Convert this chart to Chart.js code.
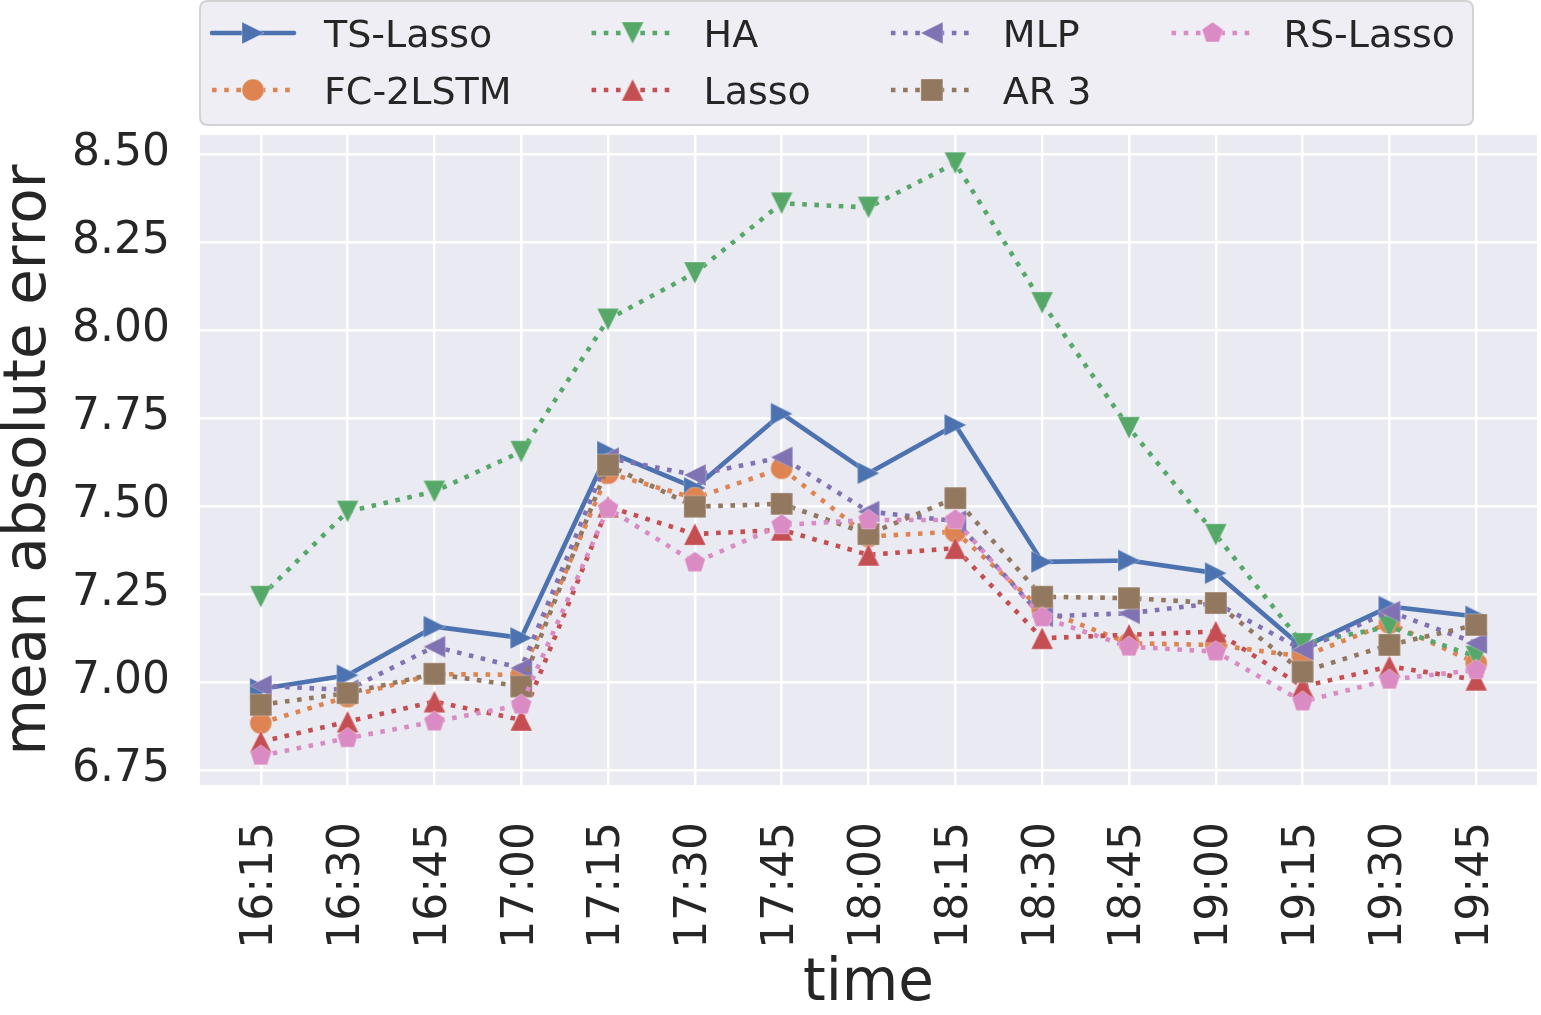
<!DOCTYPE html>
<html>
<head>
<meta charset="utf-8">
<script src="https://cdn.jsdelivr.net/npm/chart.js@4.4.1/dist/chart.umd.min.js"></script>
<style>
  html, body { margin: 0; padding: 0; background: #ffffff; overflow: hidden; }
  #wrap { width: 1541px; height: 1015px; position: relative; }
</style>
</head>
<body>
<div id="wrap"><canvas id="maeChart"></canvas></div>
<script>
// x categories (time of day)
const times = ['16:15', '16:30', '16:45', '17:00', '17:15', '17:30', '17:45', '18:00',
               '18:15', '18:30', '18:45', '19:00', '19:15', '19:30', '19:45'];
const yTicks = [6.75, 7.00, 7.25, 7.50, 7.75, 8.00, 8.25, 8.50];

// mean absolute error per model
const tsLasso = [6.980, 7.019, 7.157, 7.125, 7.654, 7.551, 7.762, 7.593, 7.730, 7.341, 7.345, 7.309, 7.098, 7.214, 7.186];
const fc2lstm = [6.883, 6.958, 7.022, 7.020, 7.593, 7.522, 7.607, 7.413, 7.427, 7.205, 7.110, 7.105, 7.072, 7.167, 7.053];
const ha      = [7.242, 7.484, 7.541, 7.654, 8.030, 8.162, 8.360, 8.348, 8.474, 8.077, 7.722, 7.418, 7.108, 7.157, 7.072];
const lasso   = [6.830, 6.887, 6.944, 6.892, 7.498, 7.420, 7.432, 7.361, 7.380, 7.124, 7.134, 7.143, 6.987, 7.044, 7.006];
const mlp     = [6.989, 6.977, 7.100, 7.039, 7.636, 7.588, 7.638, 7.484, 7.457, 7.186, 7.195, 7.224, 7.091, 7.200, 7.110];
const ar3     = [6.935, 6.968, 7.023, 6.987, 7.616, 7.498, 7.506, 7.420, 7.522, 7.242, 7.238, 7.224, 7.029, 7.105, 7.162];
const rsLasso = [6.790, 6.840, 6.887, 6.935, 7.493, 7.339, 7.446, 7.460, 7.460, 7.183, 7.100, 7.086, 6.944, 7.006, 7.034];

const FONT = "'DejaVu Sans', sans-serif";
const TEXT = '#262626';
const LW = 4.6;
const MS = 22;

// matplotlib-like marker drawn onto a small canvas
function makeMarker(shape, color, size) {
    const dim = Math.ceil(size + 6);
    const c = document.createElement('canvas');
    c.width = dim; c.height = dim;
    const g = c.getContext('2d');
    const m = dim / 2, h = size / 2;
    g.beginPath();
    if (shape === 'circle') {
        g.arc(m, m, h, 0, Math.PI * 2);
    } else if (shape === 'square') {
        g.rect(m - h, m - h, size, size);
    } else if (shape === 'up') {
        g.moveTo(m, m - h); g.lineTo(m - h, m + h); g.lineTo(m + h, m + h);
    } else if (shape === 'down') {
        g.moveTo(m, m + h); g.lineTo(m - h, m - h); g.lineTo(m + h, m - h);
    } else if (shape === 'left') {
        g.moveTo(m - h, m); g.lineTo(m + h, m - h); g.lineTo(m + h, m + h);
    } else if (shape === 'right') {
        g.moveTo(m + h, m); g.lineTo(m - h, m - h); g.lineTo(m - h, m + h);
    } else if (shape === 'pentagon') {
        for (let k = 0; k < 5; k++) {
            const a = -Math.PI / 2 + k * 2 * Math.PI / 5;
            const px = m + h * Math.cos(a), py = m + h * Math.sin(a);
            if (k === 0) g.moveTo(px, py); else g.lineTo(px, py);
        }
    }
    g.closePath();
    g.fillStyle = color;
    g.fill();
    g.lineWidth = 1;
    g.strokeStyle = 'rgba(255,255,255,0.3)';
    g.stroke();
    return c;
}

const series = [
    { label: 'TS-Lasso', data: tsLasso, color: '#4C72B0', marker: 'right',    dotted: false },
    { label: 'FC-2LSTM', data: fc2lstm, color: '#DD8452', marker: 'circle',   dotted: true },
    { label: 'HA',       data: ha,      color: '#55A868', marker: 'down',     dotted: true },
    { label: 'Lasso',    data: lasso,   color: '#C44E52', marker: 'up',       dotted: true },
    { label: 'MLP',      data: mlp,     color: '#8172B3', marker: 'left',     dotted: true },
    { label: 'AR 3',     data: ar3,     color: '#937860', marker: 'square',   dotted: true },
    { label: 'RS-Lasso', data: rsLasso, color: '#DA8BC3', marker: 'pentagon', dotted: true }
];

const datasets = series.map((s, i) => {
    const img = makeMarker(s.marker, s.color, MS);
    s.img = img;
    return {
        label: s.label,
        data: s.data.map((v, j) => ({ x: j, y: v })),
        borderColor: s.color,
        backgroundColor: s.color,
        borderWidth: LW,
        borderDash: s.dotted ? [LW, LW * 1.65] : [],
        borderCapStyle: s.dotted ? 'butt' : 'round',
        borderJoinStyle: 'round',
        pointStyle: img,
        pointRadius: MS / 2,
        pointHoverRadius: MS / 2,
        tension: 0,
        fill: false,
        order: series.length - i
    };
});

const plotBackground = {
    id: 'plotBackground',
    beforeDraw(chart) {
        const { ctx, chartArea: a } = chart;
        ctx.save();
        ctx.fillStyle = '#EAEAF2';
        ctx.fillRect(a.left, a.top, a.right - a.left, a.bottom - a.top);
        ctx.restore();
    }
};

// legend laid out in columns, like matplotlib ncol=4
const columnLegend = {
    id: 'columnLegend',
    afterDraw(chart) {
        const ctx = chart.ctx;
        const ncol = 4, nrow = 2;
        const handleLen = 82, textPad = 30, colSpace = 80;
        const rowY = [33, 90];
        const boxLeft = 200, boxTop = 1, boxBottom = 125;
        ctx.save();
        ctx.font = '38px ' + FONT;
        const cols = [];
        let x = 212;
        for (let c = 0; c < ncol; c++) {
            const items = series.slice(c * nrow, c * nrow + nrow);
            const w = Math.max(...items.map(s => ctx.measureText(s.label).width));
            cols.push({ x, items });
            x += handleLen + textPad + w + colSpace;
        }
        const last = cols[cols.length - 1];
        const lastW = Math.max(...last.items.map(s => ctx.measureText(s.label).width));
        const boxRight = last.x + handleLen + textPad + lastW + 18;

        // frame
        const r = 8;
        ctx.beginPath();
        ctx.moveTo(boxLeft + r, boxTop);
        ctx.lineTo(boxRight - r, boxTop);
        ctx.quadraticCurveTo(boxRight, boxTop, boxRight, boxTop + r);
        ctx.lineTo(boxRight, boxBottom - r);
        ctx.quadraticCurveTo(boxRight, boxBottom, boxRight - r, boxBottom);
        ctx.lineTo(boxLeft + r, boxBottom);
        ctx.quadraticCurveTo(boxLeft, boxBottom, boxLeft, boxBottom - r);
        ctx.lineTo(boxLeft, boxTop + r);
        ctx.quadraticCurveTo(boxLeft, boxTop, boxLeft + r, boxTop);
        ctx.closePath();
        ctx.fillStyle = '#EEEEF4';
        ctx.fill();
        ctx.lineWidth = 2;
        ctx.strokeStyle = '#D3D3D6';
        ctx.stroke();

        cols.forEach(col => {
            col.items.forEach((s, k) => {
                const y = rowY[k];
                ctx.beginPath();
                ctx.setLineDash(s.dotted ? [LW, LW * 1.65] : []);
                ctx.lineCap = s.dotted ? 'butt' : 'round';
                ctx.lineWidth = LW;
                ctx.strokeStyle = s.color;
                ctx.moveTo(col.x, y);
                ctx.lineTo(col.x + handleLen, y);
                ctx.stroke();
                ctx.setLineDash([]);
                const cx = col.x + handleLen / 2;
                ctx.drawImage(s.img, cx - s.img.width / 2, y - s.img.height / 2);
                ctx.fillStyle = TEXT;
                ctx.textAlign = 'left';
                ctx.textBaseline = 'alphabetic';
                ctx.fillText(s.label, col.x + handleLen + textPad, y + 14);
            });
        });
        ctx.restore();
    }
};

Chart.defaults.font.family = FONT;
Chart.defaults.color = TEXT;

const ctx = document.getElementById('maeChart').getContext('2d');
new Chart(ctx, {
    type: 'line',
    data: { datasets },
    plugins: [plotBackground, columnLegend],
    options: {
        responsive: true,
        maintainAspectRatio: false,
        animation: false,
        layout: { autoPadding: false, padding: { top: 135, right: 4, left: 0, bottom: 0 } },
        plugins: {
            legend: { display: false },
            tooltip: { enabled: false }
        },
        scales: {
            x: {
                type: 'linear',
                min: -0.7,
                max: 14.7,
                afterBuildTicks: scale => { scale.ticks = times.map((t, i) => ({ value: i })); },
                afterFit: scale => {
                    scale.height = 230;
                    scale.paddingLeft = 0;
                    scale.paddingRight = 0;
                },
                ticks: {
                    autoSkip: false,
                    minRotation: 90,
                    maxRotation: 90,
                    padding: 37,
                    font: { size: 44 },
                    color: TEXT,
                    callback: v => times[v]
                },
                grid: { color: '#ffffff', lineWidth: 2.5, drawTicks: false },
                border: { display: false },
                title: { display: true, text: 'time', font: { size: 58, lineHeight: 1 }, color: TEXT, padding: { top: 0, bottom: 1 } }
            },
            y: {
                min: 6.707,
                max: 8.554,
                afterBuildTicks: scale => { scale.ticks = yTicks.map(v => ({ value: v })); },
                afterFit: scale => {
                    scale.width = 200;
                    scale.paddingTop = 0;
                    scale.paddingBottom = 0;
                },
                ticks: {
                    padding: 30,
                    font: { size: 44 },
                    color: TEXT,
                    callback: v => v.toFixed(2)
                },
                grid: { color: '#ffffff', lineWidth: 2.5, drawTicks: false },
                border: { display: false },
                title: { display: true, text: 'mean absolute error', font: { size: 58, lineHeight: 1 }, color: TEXT, padding: { top: 1, bottom: 0 } }
            }
        }
    }
});
</script>
</body>
</html>
